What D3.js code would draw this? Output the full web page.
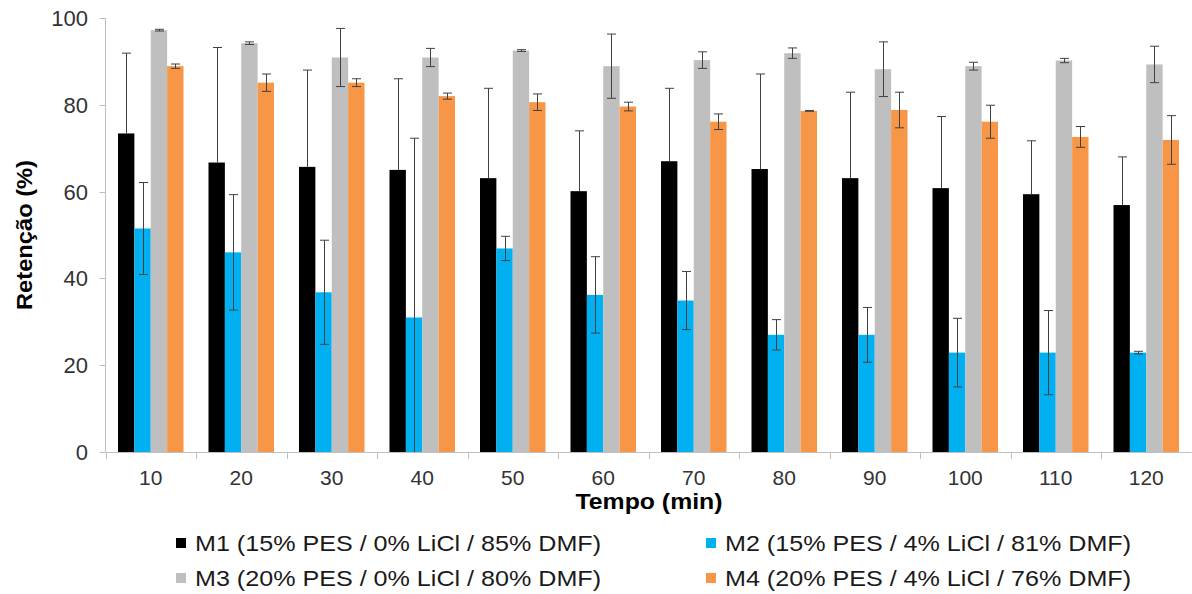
<!DOCTYPE html>
<html>
<head>
<meta charset="utf-8">
<script src="https://cdn.jsdelivr.net/npm/d3@7"></script>
<style>
  body { margin: 0; background: #fff; }
  text { font-family: "Liberation Sans", Arial, sans-serif; }
</style>
</head>
<body>
<script>
const categories = ['10', '20', '30', '40', '50', '60', '70', '80', '90', '100', '110', '120'];

const m1 = [73.4, 66.7, 65.7, 65.0, 63.1, 60.1, 67.0, 65.2, 63.1, 60.8, 59.4, 56.9];
const m1Err = [18.5, 26.5, 22.3, 21.0, 20.7, 13.9, 16.8, 21.9, 19.8, 16.5, 12.3, 11.1];
const m2 = [51.5, 46.0, 36.8, 31.0, 46.9, 36.2, 34.9, 27.0, 27.0, 22.9, 22.9, 22.9];
const m2Err = [10.6, 13.3, 12.0, 41.3, 2.8, 8.8, 6.7, 3.5, 6.3, 7.9, 9.7, 0.3];
const m3 = [97.2, 94.2, 90.9, 90.9, 92.5, 88.9, 90.3, 91.9, 88.2, 88.9, 90.2, 89.3];
const m3Err = [0.2, 0.3, 6.7, 2.1, 0.2, 7.4, 1.9, 1.2, 6.3, 0.9, 0.5, 4.2];
const m4 = [88.9, 85.1, 85.1, 82.0, 80.6, 79.6, 76.1, 78.6, 78.8, 76.1, 72.6, 71.9];
const m4Err = [0.5, 2.0, 0.9, 0.7, 1.9, 1.0, 1.8, 0.1, 4.1, 3.8, 2.4, 5.6];

const seriesNames = [
  'M1 (15% PES / 0% LiCl / 85% DMF)',
  'M2 (15% PES / 4% LiCl / 81% DMF)',
  'M3 (20% PES / 0% LiCl / 80% DMF)',
  'M4 (20% PES / 4% LiCl / 76% DMF)'
];
const colors = ['#000000', '#00b0f0', '#bfbfbf', '#f79646'];
const yTicks = [0, 20, 40, 60, 80, 100];

const series = [
  { name: seriesNames[0], values: m1, err: m1Err },
  { name: seriesNames[1], values: m2, err: m2Err },
  { name: seriesNames[2], values: m3, err: m3Err },
  { name: seriesNames[3], values: m4, err: m4Err }
];

const width = 1192;
const height = 594;
const plot = { left: 105.5, right: 1191.5, top: 18, bottom: 452 };

const svg = d3.select('body').append('svg')
  .attr('width', width)
  .attr('height', height);

const x = d3.scaleBand()
  .domain(categories)
  .range([plot.left, plot.right])
  .padding(0);

const xInner = d3.scaleBand()
  .domain(d3.range(series.length))
  .range([12.5, x.bandwidth() - 12.5])
  .padding(0);

const y = d3.scaleLinear()
  .domain([0, 100])
  .range([plot.bottom, plot.top]);

// axes
const axisColor = '#bfbfbf';
const labelColor = '#333';

svg.append('line')
  .attr('x1', plot.left).attr('x2', plot.left)
  .attr('y1', y(100)).attr('y2', y(0))
  .attr('stroke', axisColor);

svg.selectAll('.ytick')
  .data(yTicks)
  .join('line')
  .attr('x1', plot.left - 6).attr('x2', plot.left)
  .attr('y1', d => Math.round(y(d)) + 0.5).attr('y2', d => Math.round(y(d)) + 0.5)
  .attr('stroke', axisColor);

svg.selectAll('.ylabel')
  .data(yTicks)
  .join('text')
  .attr('x', 88)
  .attr('y', d => y(d) + 8)
  .attr('text-anchor', 'end')
  .attr('font-size', 22)
  .attr('fill', labelColor)
  .text(d => d);

svg.append('line')
  .attr('x1', plot.left).attr('x2', plot.right)
  .attr('y1', plot.bottom + 0.5).attr('y2', plot.bottom + 0.5)
  .attr('stroke', axisColor);

const xTickPos = categories.map(c => x(c)).concat([plot.right]);
svg.selectAll('.xtick')
  .data(xTickPos)
  .join('line')
  .attr('x1', d => Math.round(d) + 0.5).attr('x2', d => Math.round(d) + 0.5)
  .attr('y1', plot.bottom).attr('y2', plot.bottom + 7)
  .attr('stroke', axisColor);

svg.selectAll('.xlabel')
  .data(categories)
  .join('text')
  .attr('x', d => x(d) + x.bandwidth() / 2)
  .attr('y', 485)
  .attr('text-anchor', 'middle')
  .attr('font-size', 21)
  .attr('fill', labelColor)
  .text(d => d);

// bars
series.forEach((s, i) => {
  svg.append('g')
    .selectAll('rect')
    .data(s.values)
    .join('rect')
    .attr('x', (d, j) => x(categories[j]) + xInner(i))
    .attr('width', xInner.bandwidth())
    .attr('y', d => y(d))
    .attr('height', d => y(0) - y(d))
    .attr('fill', colors[i]);
});

// error bars (the lower half of M1 is hidden in the black bar)
const errColor = '#404040';
const capHalf = 4.5;
series.forEach((s, i) => {
  const g = svg.append('g');
  s.values.forEach((v, j) => {
    const cx = Math.round(x(categories[j]) + xInner(i) + xInner.bandwidth() / 2) + 0.5;
    const hi = v + s.err[j];
    const showLow = i !== 0;
    const lo = showLow ? Math.max(0, v - s.err[j]) : v;
    g.append('line')
      .attr('x1', cx).attr('x2', cx)
      .attr('y1', y(hi)).attr('y2', y(lo))
      .attr('stroke', errColor).attr('stroke-width', 1);
    g.append('line')
      .attr('x1', cx - capHalf).attr('x2', cx + capHalf)
      .attr('y1', y(hi)).attr('y2', y(hi))
      .attr('stroke', errColor).attr('stroke-width', 1);
    if (showLow && v - s.err[j] > 0) {
      g.append('line')
        .attr('x1', cx - capHalf).attr('x2', cx + capHalf)
        .attr('y1', y(lo)).attr('y2', y(lo))
        .attr('stroke', errColor).attr('stroke-width', 1);
    }
  });
});

// axis titles
svg.append('text')
  .attr('x', 649)
  .attr('y', 509)
  .attr('text-anchor', 'middle')
  .attr('font-size', 22)
  .attr('font-weight', 'bold')
  .attr('fill', '#000')
  .attr('textLength', 147)
  .attr('lengthAdjust', 'spacingAndGlyphs')
  .text('Tempo (min)');

svg.append('text')
  .attr('transform', 'translate(32,235) rotate(-90)')
  .attr('text-anchor', 'middle')
  .attr('font-size', 22)
  .attr('font-weight', 'bold')
  .attr('fill', '#000')
  .attr('textLength', 150)
  .attr('lengthAdjust', 'spacingAndGlyphs')
  .text('Retenção (%)');

// legend
const legendPos = [
  { x: 176, y: 543 },
  { x: 706, y: 543 },
  { x: 176, y: 578 },
  { x: 706, y: 578 }
];
const legend = svg.append('g')
  .selectAll('g')
  .data(series)
  .join('g')
  .attr('transform', (d, i) => `translate(${legendPos[i].x},${legendPos[i].y})`);

legend.append('rect')
  .attr('x', 0).attr('y', -5)
  .attr('width', 10).attr('height', 10)
  .attr('fill', (d, i) => colors[i]);

legend.append('text')
  .attr('x', 19)
  .attr('y', 8)
  .attr('font-size', 22)
  .attr('fill', '#1a1a1a')
  .attr('textLength', 406)
  .attr('lengthAdjust', 'spacingAndGlyphs')
  .text(d => d.name);
</script>
</body>
</html>
